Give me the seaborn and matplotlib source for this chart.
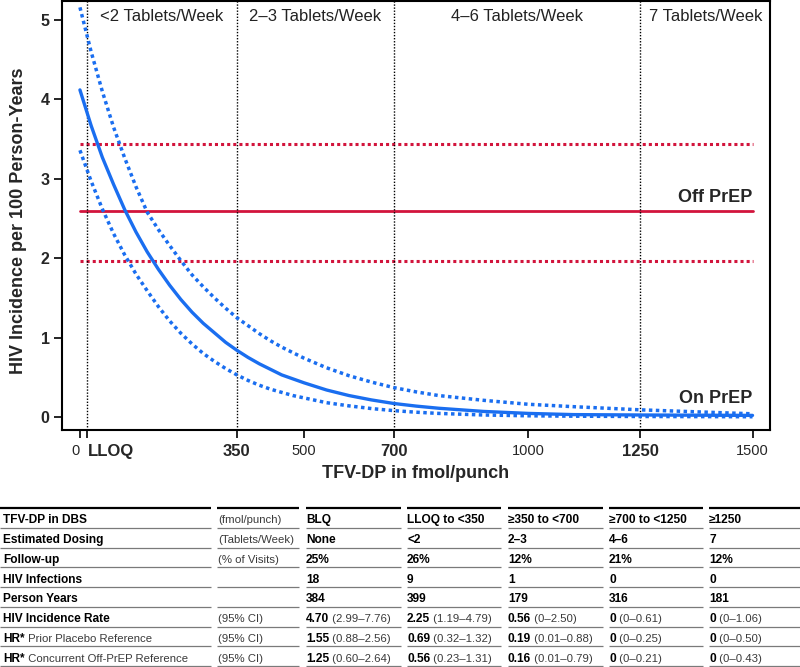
import numpy as np
import pandas as pd
import matplotlib
matplotlib.use("Agg")
import matplotlib.pyplot as plt
import seaborn as sns

# ---------------- data ----------------
TFV_X = [0, 25, 50, 75, 100, 125, 150, 175, 200, 225, 250, 275, 300, 325, 350, 375,
         400, 425, 450, 475, 500, 550, 600, 650, 700, 750, 800, 900, 1000, 1100, 1250, 1500]
ON_PREP = [4.12, 3.67, 3.27, 2.93, 2.61, 2.33, 2.08, 1.86, 1.66, 1.48, 1.32, 1.18, 1.06, 0.94, 0.84, 0.75,
           0.67, 0.60, 0.53, 0.48, 0.43, 0.34, 0.27, 0.215, 0.17, 0.137, 0.11, 0.07, 0.045, 0.03, 0.025, 0.02]
ON_PREP_UPPER = [5.16, 4.60, 4.10, 3.65, 3.26, 2.90, 2.58, 2.36, 2.16, 1.97, 1.79, 1.64, 1.50, 1.37, 1.25, 1.15,
                 1.05, 0.96, 0.88, 0.81, 0.74, 0.62, 0.52, 0.44, 0.37, 0.316, 0.27, 0.21, 0.16, 0.13, 0.09, 0.04]
ON_PREP_LOWER = [3.36, 2.97, 2.62, 2.31, 2.04, 1.80, 1.59, 1.39, 1.21, 1.055, 0.92, 0.80, 0.70, 0.61, 0.53, 0.46,
                 0.40, 0.35, 0.31, 0.27, 0.24, 0.18, 0.14, 0.106, 0.08, 0.06, 0.045, 0.025, 0.015, 0.01, 0.006, 0.003]
OFF_PREP_X = [0, 1500]
OFF_PREP_RATE = 2.60
OFF_PREP_UPPER = 3.44
OFF_PREP_LOWER = 1.97

LLOQ = 16.6
CUTPOINTS = [LLOQ, 350, 700, 1250]
DOSING_LABELS = ["<2 Tablets/Week", "2\u20133 Tablets/Week", "4\u20136 Tablets/Week", "7 Tablets/Week"]
X_TICKS = [0, LLOQ, 350, 500, 700, 1000, 1250, 1500]
X_TICK_LABELS = ["0", "LLOQ", "350", "500", "700", "1000", "1250", "1500"]
X_TICK_BOLD = [False, True, True, False, True, False, True, False]
Y_TICKS = [0, 1, 2, 3, 4, 5]

# table
ROW_LABELS_BOLD = ["TFV-DP in DBS", "Estimated Dosing", "Follow-up", "HIV Infections",
                   "Person Years", "HIV Incidence Rate", "HR*", "HR*"]
ROW_LABELS_REG = ["", "", "", "", "", "", " Prior Placebo Reference", " Concurrent Off-PrEP Reference"]
ROW_UNITS = ["(fmol/punch)", "(Tablets/Week)", "(% of Visits)", "", "", "(95% CI)", "(95% CI)", "(95% CI)"]
CATEGORIES = ["BLQ", "LLOQ to <350", "\u2265350 to <700", "\u2265700 to <1250", "\u22651250"]
DOSING = ["None", "<2", "2\u20133", "4\u20136", "7"]
FOLLOW_UP = ["25%", "26%", "12%", "21%", "12%"]
INFECTIONS = ["18", "9", "1", "0", "0"]
PERSON_YEARS = ["384", "399", "179", "316", "181"]
INCIDENCE = ["4.70", "2.25", "0.56", "0", "0"]
INCIDENCE_CI = ["2.99\u20137.76", "1.19\u20134.79", "0\u20132.50", "0\u20130.61", "0\u20131.06"]
HR_PRIOR = ["1.55", "0.69", "0.19", "0", "0"]
HR_PRIOR_CI = ["0.88\u20132.56", "0.32\u20131.32", "0.01\u20130.88", "0\u20130.25", "0\u20130.50"]
HR_CONC = ["1.25", "0.56", "0.16", "0", "0"]
HR_CONC_CI = ["0.60\u20132.64", "0.23\u20131.31", "0.01\u20130.79", "0\u20130.21", "0\u20130.43"]

BLUE = "#1a6ef0"
RED = "#d2143c"

# ---------------- style ----------------
sns.set_style("ticks")
plt.rcParams["font.family"] = ["Liberation Sans", "DejaVu Sans"]

W, H = 800, 667
fig = plt.figure(figsize=(W / 100, H / 100), dpi=100)
ax = fig.add_axes([62 / W, 1 - 430 / H, (770 - 62) / W, (430 - 1) / H])

df_on = pd.DataFrame({"tfv": TFV_X, "rate": ON_PREP, "upper": ON_PREP_UPPER, "lower": ON_PREP_LOWER})
df_off = pd.DataFrame({"tfv": OFF_PREP_X,
                       "rate": [OFF_PREP_RATE] * len(OFF_PREP_X),
                       "upper": [OFF_PREP_UPPER] * len(OFF_PREP_X),
                       "lower": [OFF_PREP_LOWER] * len(OFF_PREP_X)})

dot = (0, (1, 1))
sns.lineplot(data=df_off, x="tfv", y="rate", color=RED, lw=2.0, ax=ax, errorbar=None, zorder=2)
sns.lineplot(data=df_off, x="tfv", y="upper", color=RED, lw=2.2, linestyle=dot, ax=ax, errorbar=None, zorder=2)
sns.lineplot(data=df_off, x="tfv", y="lower", color=RED, lw=2.2, linestyle=dot, ax=ax, errorbar=None, zorder=2)

for c in CUTPOINTS:
    ax.axvline(c, color="black", lw=1.0, linestyle=(0, (1, 1.2)), zorder=3)

sns.lineplot(data=df_on, x="tfv", y="rate", color=BLUE, lw=2.4, ax=ax, errorbar=None, zorder=4)
sns.lineplot(data=df_on, x="tfv", y="upper", color=BLUE, lw=2.5, linestyle=dot, ax=ax, errorbar=None, zorder=4)
sns.lineplot(data=df_on, x="tfv", y="lower", color=BLUE, lw=2.5, linestyle=dot, ax=ax, errorbar=None, zorder=4)

XMIN, XMAX = -40, 1539
ax.set_xlim(XMIN, XMAX)
ax.set_ylim(-0.164, 5.24)

# region labels
bounds = CUTPOINTS + [XMAX]
for i, lab in enumerate(DOSING_LABELS):
    xc = (bounds[i] + bounds[i + 1]) / 2
    ax.text(xc, 0.964, lab, transform=ax.get_xaxis_transform(), ha="center", va="center",
            fontsize=12, color="#222222")

ax.text(OFF_PREP_X[-1], 2.71, "Off PrEP", ha="right", va="baseline", fontsize=13, fontweight="bold")
ax.text(OFF_PREP_X[-1], 0.18, "On PrEP", ha="right", va="baseline", fontsize=13, fontweight="bold")

# ticks
ax.set_xticks(X_TICKS)
ax.set_xticklabels(X_TICK_LABELS)
for lbl, b in zip(ax.get_xticklabels(), X_TICK_BOLD):
    lbl.set_fontweight("bold" if b else "normal")
    lbl.set_fontsize(12 if b else 10.5)
xl = ax.get_xticklabels()
xl[0].set_ha("right")
xl[1].set_ha("left")
ax.set_yticks(Y_TICKS)
ax.set_yticklabels([str(v) for v in Y_TICKS], fontweight="bold", fontsize=11.5)
ax.tick_params(axis="both", direction="out", length=6, width=1.2, color="black", pad=3)
ax.tick_params(axis="x", pad=4)
for s in ax.spines.values():
    s.set_visible(True)
    s.set_linewidth(1.5)
    s.set_color("black")

ax.set_xlabel("TFV-DP in fmol/punch", fontsize=13, fontweight="bold", va="center")
ax.xaxis.set_label_coords(0.5, (430 - 473) / 429)
ax.set_ylabel("HIV Incidence per 100 Person-Years", fontsize=13, fontweight="bold", va="center")
ax.yaxis.set_label_coords((18.5 - 62) / 708, (430 - 221) / 429)

# ---------------- table ----------------
tax = fig.add_axes([0, 0, 1, 1])
tax.set_xlim(0, W)
tax.set_ylim(H, 0)
tax.axis("off")
tax.patch.set_visible(False)

GROUPS = [(0, 211), (217, 299), (306, 401), (407, 501), (508, 603), (609, 703), (709, 800)]
TEXT_X = [3, 218, 306, 407, 508, 609, 709]
TOP = 508
ROW_H = 19.75
N_ROWS = 8

for x0, x1 in GROUPS:
    tax.plot([x0, x1], [TOP, TOP], color="black", lw=1.6, solid_capstyle="butt")
    for k in range(1, N_ROWS + 1):
        y = TOP + ROW_H * k
        tax.plot([x0, x1], [y, y], color="#7a7a7a", lw=0.9, solid_capstyle="butt")

renderer = fig.canvas.get_renderer()
FS_B = 8.6
FS_R = 8.2
REG_COLOR = "#3a3a3a"


def mixed(x, y, bold, reg):
    t = tax.text(x, y, bold, fontsize=FS_B, fontweight="bold", ha="left", va="baseline", color="black")
    if reg:
        bb = t.get_window_extent(renderer=renderer)
        tax.text(x + bb.width, y, reg, fontsize=FS_R, ha="left", va="baseline", color=REG_COLOR)


cells = [CATEGORIES, DOSING, FOLLOW_UP, INFECTIONS, PERSON_YEARS]
ci_rows = [(INCIDENCE, INCIDENCE_CI), (HR_PRIOR, HR_PRIOR_CI), (HR_CONC, HR_CONC_CI)]

for r in range(N_ROWS):
    yb = TOP + ROW_H * r + 15.4
    mixed(TEXT_X[0], yb, ROW_LABELS_BOLD[r], ROW_LABELS_REG[r])
    if ROW_UNITS[r]:
        tax.text(TEXT_X[1], yb, ROW_UNITS[r], fontsize=FS_R, ha="left", va="baseline", color=REG_COLOR)
    for j in range(5):
        if r < 5:
            mixed(TEXT_X[2 + j], yb, cells[r][j], "")
        else:
            v, ci = ci_rows[r - 5]
            mixed(TEXT_X[2 + j], yb, v[j], " (" + ci[j] + ")")

fig.savefig("out.png", dpi=100)
